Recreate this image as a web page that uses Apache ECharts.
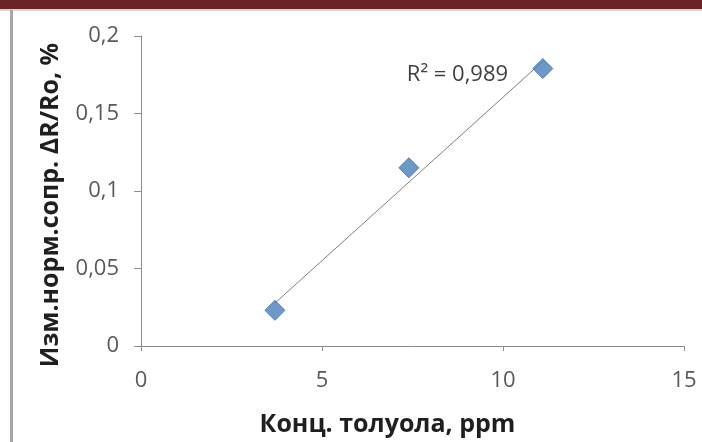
<!DOCTYPE html>
<html>
<head>
<meta charset="utf-8">
<script src="https://cdn.jsdelivr.net/npm/echarts@6/dist/echarts.min.js"></script>
<style>
  html, body { margin: 0; padding: 0; background: #ffffff; }
  #chart { width: 702px; height: 442px; }
</style>
</head>
<body>
<div id="chart"></div>
<script>
// Toluene concentration (ppm) and normalised resistance change ΔR/Ro (%)
var concentration = [3.7, 7.4, 11.1];
var response = [0.023, 0.115, 0.179];
var xTicks = [0, 5, 10, 15];
var yTicks = [0, 0.05, 0.1, 0.15, 0.2];
var xTitle = 'Конц. толуола, ppm';
var yTitle = 'Изм.норм.сопр. ΔR/Ro, %';
var r2Text = 'R² = 0,989';

// Least-squares linear trend through the measured points
function linearFit(xs, ys) {
  var n = xs.length, sx = 0, sy = 0, sxx = 0, sxy = 0;
  for (var i = 0; i < n; i++) {
    sx += xs[i]; sy += ys[i]; sxx += xs[i] * xs[i]; sxy += xs[i] * ys[i];
  }
  var slope = (n * sxy - sx * sy) / (n * sxx - sx * sx);
  var intercept = (sy - slope * sx) / n;
  return { slope: slope, intercept: intercept };
}
var fit = linearFit(concentration, response);
var xMin = Math.min.apply(null, concentration);
var xMax = Math.max.apply(null, concentration);
var trend = [
  [xMin, fit.intercept + fit.slope * xMin],
  [xMax, fit.intercept + fit.slope * xMax]
];

var points = concentration.map(function (x, i) { return [x, response[i]]; });

function comma(v) {
  return String(parseFloat(v.toFixed(4))).replace('.', ',');
}

var font = '"Open Sans", "DejaVu Sans", sans-serif';
var chart = echarts.init(document.getElementById('chart'), null, { renderer: 'canvas' });

chart.setOption({
  backgroundColor: '#ffffff',
  animation: false,
  graphic: [
    { type: 'rect', left: 0, top: 0, shape: { width: 702, height: 9 }, style: { fill: '#6b2323' } },
    { type: 'rect', left: 0, top: 9, shape: { width: 702, height: 2 }, style: { fill: '#d4d4d4' } },
    { type: 'rect', left: 10, top: 10, shape: { width: 3, height: 432 }, style: { fill: '#a6a6a6' } }
  ],
  grid: { left: 141, right: 18, top: 36, bottom: 92, containLabel: false },
  xAxis: {
    type: 'value',
    min: xTicks[0], max: xTicks[xTicks.length - 1], interval: 5,
    name: xTitle,
    nameLocation: 'middle',
    nameGap: 66,
    nameTextStyle: { fontFamily: font, fontWeight: 'bold', fontSize: 25, color: '#1f1f1f', padding: [0, 50, 0, 0] },
    axisLine: { lineStyle: { color: '#8c8c8c', width: 1 } },
    axisTick: { show: true, length: 5, lineStyle: { color: '#8c8c8c' } },
    axisLabel: { fontFamily: font, fontSize: 22, color: '#595959', margin: 24, formatter: comma },
    splitLine: { show: false }
  },
  yAxis: {
    type: 'value',
    min: yTicks[0], max: yTicks[yTicks.length - 1], interval: 0.05,
    name: yTitle,
    nameLocation: 'middle',
    nameGap: 78,
    nameRotate: 90,
    nameTextStyle: { fontFamily: font, fontWeight: 'bold', fontSize: 25, color: '#1f1f1f', padding: [0, 28, 0, 0] },
    axisLine: { show: true, lineStyle: { color: '#8c8c8c', width: 1 } },
    axisTick: { show: true, length: 7, lineStyle: { color: '#8c8c8c' } },
    axisLabel: { fontFamily: font, fontSize: 22, color: '#595959', margin: 22, formatter: comma },
    splitLine: { show: false }
  },
  series: [
    {
      type: 'line',
      data: trend,
      showSymbol: false,
      symbol: 'none',
      lineStyle: { color: '#7f7f7f', width: 1 },
      z: 2,
      endLabel: {
        show: true,
        formatter: function () { return r2Text; },
        position: 'left',
        distance: 0,
        offset: [-136, 13],
        fontFamily: font,
        fontSize: 22,
        color: '#404040'
      }
    },
    {
      type: 'scatter',
      data: points,
      symbol: 'diamond',
      symbolSize: [20, 20],
      itemStyle: { color: '#4a7ebb', borderColor: '#3b6aa8', borderWidth: 1 },
      z: 3
    }
  ]
});
</script>
</body>
</html>
